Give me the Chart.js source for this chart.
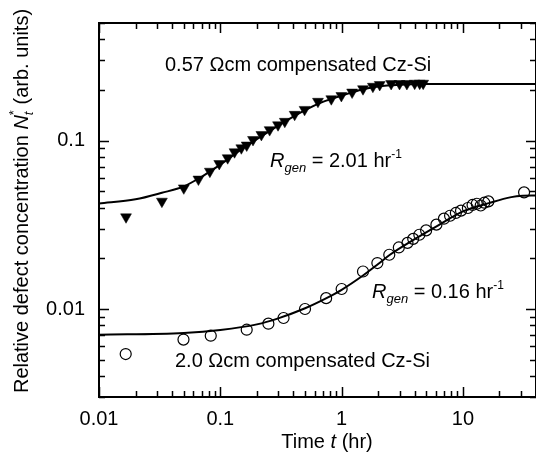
<!DOCTYPE html>
<html lang="en">
<head>
<meta charset="UTF-8">
<title>Relative defect concentration vs time</title>
<script src="https://cdn.jsdelivr.net/npm/chart.js"></script>
<style>
  html, body { margin: 0; padding: 0; background: #fff; }
</style>
</head>
<body>
<canvas id="chart" width="536" height="470"></canvas>
<script>
// 0.57 Ohm cm sample (filled down triangles)
const triTime = [0.0167, 0.033, 0.05, 0.066, 0.082, 0.098, 0.115, 0.131, 0.149, 0.165, 0.186, 0.218, 0.255, 0.299, 0.34,
  0.41, 0.495, 0.638, 0.822, 0.995, 1.22, 1.5, 1.81, 2.06, 2.56, 3.0, 3.45, 4.0, 4.4, 4.7];
const triConc = [0.0352, 0.0436, 0.0523, 0.059, 0.0657, 0.073, 0.079, 0.0857, 0.0905, 0.094, 0.1014, 0.1086, 0.116, 0.124, 0.130,
  0.143, 0.153, 0.171, 0.177, 0.185, 0.194, 0.203, 0.210, 0.215, 0.218, 0.218, 0.218, 0.219, 0.219, 0.219];

// 2.0 Ohm cm sample (open circles)
const circTime = [0.0166, 0.0497, 0.0834, 0.165, 0.249, 0.332, 0.499, 0.745, 1.0, 1.5, 1.97, 2.47, 2.96, 3.49, 3.89,
  4.37, 4.97, 6.04, 6.97, 7.83, 8.74, 9.64, 10.98, 12.0, 13.0, 14.0, 15.0, 16.2, 31.9];
const circConc = [0.0054, 0.00658, 0.00694, 0.00753, 0.00818, 0.00884, 0.0100, 0.0116, 0.01314, 0.0167, 0.01875, 0.0210, 0.0232, 0.0247, 0.0261,
  0.0276, 0.0293, 0.0317, 0.0344, 0.0358, 0.0372, 0.0384, 0.0398, 0.0415, 0.0422, 0.0412, 0.0428, 0.0436, 0.0493];

// fitted curves
const fitTriTime = [0.01, 0.02, 0.033, 0.05, 0.07, 0.1, 0.15, 0.2, 0.3, 0.5, 0.7, 1, 1.5, 2, 3, 5, 10, 40];
const fitTriConc = [0.0423, 0.0448, 0.049, 0.0535, 0.061, 0.072, 0.089, 0.102, 0.123, 0.152, 0.170, 0.185, 0.202, 0.210, 0.215, 0.217, 0.217, 0.217];
const fitCircTime = [0.01, 0.05, 0.1, 0.2, 0.3, 0.5, 0.75, 1, 1.5, 2, 2.5, 4, 6.4, 10, 16.6, 25, 31, 40];
const fitCircConc = [0.00703, 0.0072, 0.0075, 0.0081, 0.0088, 0.0101, 0.0116, 0.0130, 0.0158, 0.0185, 0.0210, 0.0260, 0.0317, 0.038, 0.0427, 0.0462, 0.0471, 0.0473];

// axes
const xTicks = [0.01, 0.02, 0.03, 0.04, 0.05, 0.06, 0.07, 0.08, 0.09, 0.1, 0.2, 0.3, 0.4, 0.5, 0.6, 0.7, 0.8, 0.9,
  1, 2, 3, 4, 5, 6, 7, 8, 9, 10, 20, 30, 40];
const xMajor = [0.01, 0.1, 1, 10];
const xTickLabels = ['0.01', '0.1', '1', '10'];
const yTicks = [0.003, 0.004, 0.005, 0.006, 0.007, 0.008, 0.009, 0.01, 0.02, 0.03, 0.04, 0.05, 0.06, 0.07, 0.08, 0.09,
  0.1, 0.2, 0.3, 0.4, 0.5];
const yMajor = [0.01, 0.1];
const yTickLabels = ['0.01', '0.1'];

const FONT = '"Liberation Sans", Arial, sans-serif';
Chart.defaults.font.family = FONT;
Chart.defaults.color = '#000';

const pts = (xs, ys) => xs.map((x, i) => ({ x: x, y: ys[i] }));
const near = (a, b) => Math.abs(Math.log10(a) - Math.log10(b)) < 1e-6;
const labelFor = (majors, labels) => v => {
  const i = majors.findIndex(m => near(m, v));
  return i >= 0 ? labels[i] : '';
};

function drawRuns(ctx, x, y, runs) {
  runs.forEach(r => {
    ctx.font = (r.italic ? 'italic ' : '') + r.size + 'px ' + FONT;
    ctx.fillText(r.t, x, y + (r.dy || 0));
    if (!r.stay) x += ctx.measureText(r.t).width;
  });
}
function runsWidth(ctx, runs) {
  let w = 0;
  runs.forEach(r => {
    ctx.font = (r.italic ? 'italic ' : '') + r.size + 'px ' + FONT;
    if (!r.stay) w += ctx.measureText(r.t).width;
  });
  return w;
}

const frame = {
  id: 'frame',
  afterDraw(chart) {
    const ctx = chart.ctx, a = chart.chartArea;
    const xs = chart.scales.x, ys = chart.scales.y;
    ctx.save();
    ctx.strokeStyle = '#000';
    ctx.fillStyle = '#000';
    ctx.lineWidth = 2;
    ctx.strokeRect(a.left, a.top, a.right - a.left, a.bottom - a.top);
    ctx.lineWidth = 1.5;
    ctx.beginPath();
    xTicks.forEach(v => {
      const p = Math.round(xs.getPixelForValue(v)) + 0.5;
      const len = xMajor.some(m => near(m, v)) ? 10 : 6;
      ctx.moveTo(p, a.bottom); ctx.lineTo(p, a.bottom - len);
      ctx.moveTo(p, a.top); ctx.lineTo(p, a.top + len);
    });
    yTicks.forEach(v => {
      const p = Math.round(ys.getPixelForValue(v)) + 0.5;
      const len = yMajor.some(m => near(m, v)) ? 10 : 6;
      ctx.moveTo(a.left, p); ctx.lineTo(a.left + len, p);
      ctx.moveTo(a.right, p); ctx.lineTo(a.right - len, p);
    });
    ctx.stroke();

    ctx.textAlign = 'left';
    ctx.textBaseline = 'alphabetic';
    drawRuns(ctx, 165, 71, [{ t: '0.57 \u03A9cm compensated Cz-Si', size: 20 }]);
    drawRuns(ctx, 175, 367, [{ t: '2.0 \u03A9cm compensated Cz-Si', size: 20 }]);
    const rgen = val => [
      { t: 'R', size: 20, italic: true },
      { t: 'gen', size: 13, italic: true, dy: 5 },
      { t: ' = ' + val + ' hr', size: 20 },
      { t: '-1', size: 12, dy: -9 }
    ];
    drawRuns(ctx, 270, 167, rgen('2.01'));
    drawRuns(ctx, 372, 298, rgen('0.16'));

    // axis titles
    const xt = [{ t: 'Time ', size: 20 }, { t: 't', size: 20, italic: true }, { t: ' (hr)', size: 20 }];
    drawRuns(ctx, 327 - runsWidth(ctx, xt) / 2, 448, xt);
    const yt = [
      { t: 'Relative defect concentration ', size: 20 },
      { t: 'N', size: 20, italic: true },
      { t: 't', size: 13, italic: true, dy: 5, stay: true },
      { t: '*', size: 13, dy: -10 },
      { t: ' (arb. units)', size: 20 }
    ];
    ctx.translate(0, 201);
    ctx.rotate(-Math.PI / 2);
    drawRuns(ctx, -runsWidth(ctx, yt) / 2, 28, yt);
    ctx.restore();
  }
};

const noPad = s => { s.paddingLeft = 0; s.paddingRight = 0; s.paddingTop = 0; s.paddingBottom = 0; };

new Chart(document.getElementById('chart'), {
  type: 'scatter',
  data: {
    datasets: [
      { data: pts(fitTriTime, fitTriConc), showLine: true, pointRadius: 0, borderColor: '#000', borderWidth: 2,
        cubicInterpolationMode: 'monotone' },
      { data: pts(fitCircTime, fitCircConc), showLine: true, pointRadius: 0, borderColor: '#000', borderWidth: 2,
        cubicInterpolationMode: 'monotone' },
      { data: pts(triTime, triConc), pointStyle: 'triangle', rotation: 180, pointRadius: 6.3,
        backgroundColor: '#000', borderColor: '#000', borderWidth: 0.5 },
      { data: pts(circTime, circConc), pointStyle: 'circle', pointRadius: 5.5,
        backgroundColor: 'rgba(255,255,255,0)', borderColor: '#000', borderWidth: 1.2 }
    ]
  },
  options: {
    responsive: false,
    animation: false,
    devicePixelRatio: 1,
    layout: { autoPadding: false, padding: { top: 23, left: 0, right: 0, bottom: 0 } },
    plugins: { legend: { display: false }, tooltip: { enabled: false } },
    scales: {
      x: {
        type: 'logarithmic', min: 0.01, max: 40,
        grid: { display: false, drawTicks: false }, border: { display: false },
        afterBuildTicks: s => { s.ticks = xTicks.map(v => ({ value: v })); },
        afterFit: s => { s.height = 73; noPad(s); },
        ticks: { callback: labelFor(xMajor, xTickLabels), font: { size: 20 }, padding: 10, maxRotation: 0, autoSkip: false }
      },
      y: {
        type: 'logarithmic', min: 0.003, max: 0.5,
        grid: { display: false, drawTicks: false }, border: { display: false },
        afterBuildTicks: s => { s.ticks = yTicks.map(v => ({ value: v })); },
        afterFit: s => { s.width = 99; noPad(s); },
        ticks: { callback: labelFor(yMajor, yTickLabels), font: { size: 20 }, padding: 14, autoSkip: false }
      }
    }
  },
  plugins: [frame]
});
</script>
</body>
</html>
